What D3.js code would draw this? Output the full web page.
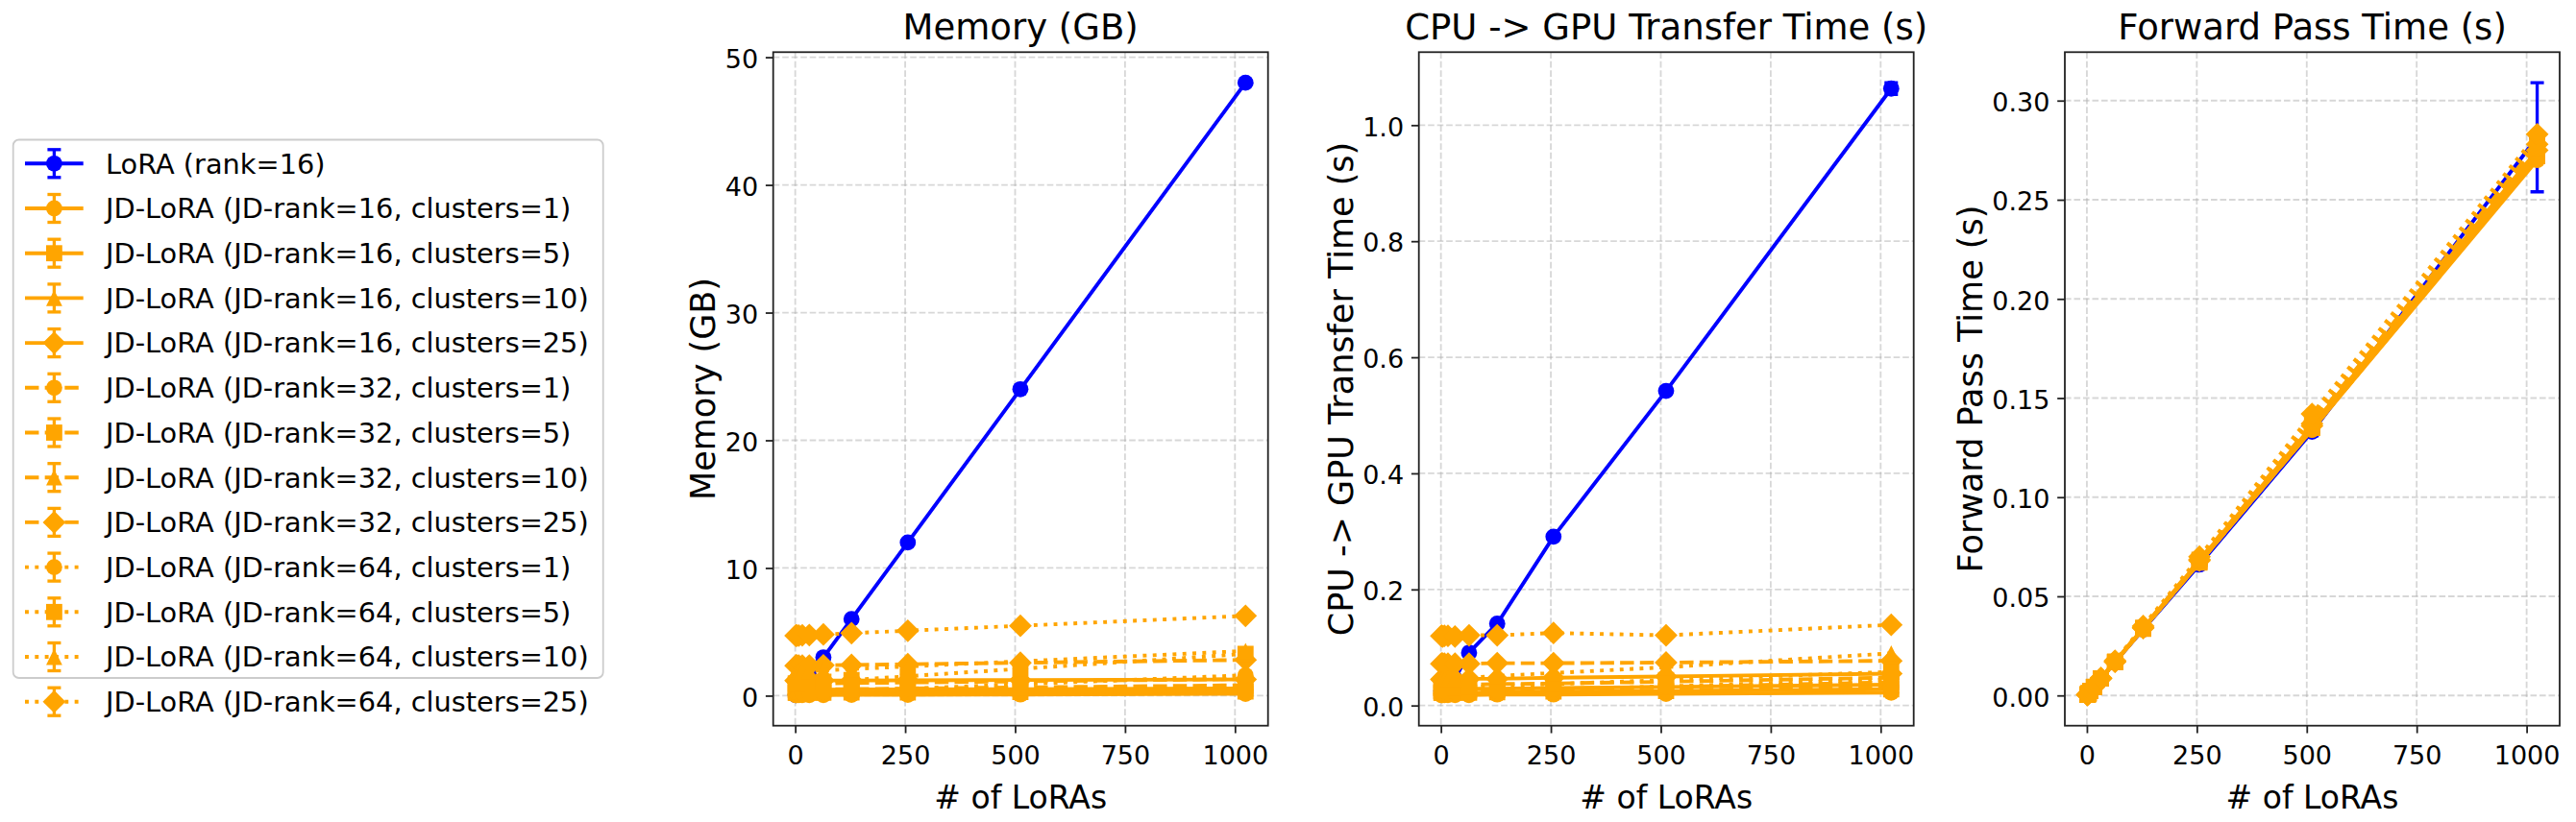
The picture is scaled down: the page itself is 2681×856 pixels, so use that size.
<!DOCTYPE html>
<html>
<head>
<meta charset="utf-8">
<script src="https://cdn.jsdelivr.net/npm/d3@7"></script>
<style>
  body { margin: 0; background: #fff; }
  text { font-family: "DejaVu Sans", sans-serif; }
</style>
</head>
<body>
<div id="container"></div>
<script>
const width = 2681;
const height = 856;

// x values: number of LoRAs
const nLoras = [1, 2, 4, 8, 16, 32, 64, 128, 256, 512, 1024];
const xTicks = [0, 250, 500, 750, 1000];

const ranks = [16, 32, 64];
const clusters = [1, 5, 10, 25];

// plain LoRA (rank=16)
const loraMemory = [0.047, 0.094, 0.188, 0.375, 0.75, 1.5, 3.0, 6.0, 12.0, 24.0, 48.0];
const loraTransfer = [0.025, 0.026, 0.027, 0.030, 0.035, 0.046, 0.091, 0.141, 0.291, 0.542, 1.063];
const loraTransferErr = [0.001, 0.001, 0.001, 0.001, 0.001, 0.002, 0.002, 0.003, 0.004, 0.005, 0.010];
const loraForward = [0.0003, 0.0006, 0.0011, 0.0022, 0.0043, 0.0085, 0.0168, 0.0333, 0.066, 0.133, 0.2815];
const loraForwardErr = [0.0001, 0.0001, 0.0001, 0.0002, 0.0003, 0.0004, 0.0006, 0.0008, 0.0012, 0.002, 0.0275];

// JD-LoRA memory (GB), one row per clusters value
const jdMemR16 = [
  [0.047, 0.047, 0.047, 0.048, 0.048, 0.050, 0.053, 0.059, 0.070, 0.094, 0.140],
  [0.235, 0.235, 0.235, 0.236, 0.237, 0.238, 0.241, 0.247, 0.259, 0.283, 0.330],
  [0.470, 0.470, 0.470, 0.471, 0.471, 0.473, 0.476, 0.481, 0.493, 0.515, 0.560],
  [1.180, 1.180, 1.180, 1.181, 1.181, 1.183, 1.186, 1.191, 1.203, 1.225, 1.270]
];
const jdMemR32 = [
  [0.094, 0.095, 0.095, 0.097, 0.100, 0.105, 0.116, 0.139, 0.183, 0.272, 0.450],
  [0.470, 0.471, 0.471, 0.473, 0.476, 0.481, 0.492, 0.514, 0.558, 0.645, 0.820],
  [0.940, 0.941, 0.941, 0.943, 0.946, 0.951, 0.963, 0.985, 1.030, 1.120, 1.300],
  [2.350, 2.351, 2.352, 2.354, 2.357, 2.364, 2.378, 2.406, 2.463, 2.575, 2.800]
];
const jdMemR64 = [
  [0.191, 0.193, 0.196, 0.201, 0.213, 0.234, 0.278, 0.366, 0.543, 0.895, 1.600],
  [0.942, 0.945, 0.949, 0.959, 0.977, 1.012, 1.086, 1.231, 1.523, 2.105, 3.270],
  [1.882, 1.883, 1.886, 1.893, 1.906, 1.930, 1.981, 2.083, 2.285, 2.690, 3.500],
  [4.702, 4.703, 4.706, 4.712, 4.725, 4.748, 4.797, 4.894, 5.088, 5.475, 6.250]
];

// JD-LoRA CPU -> GPU transfer time (s)
const jdTrR16 = [
  [0.018, 0.018, 0.018, 0.018, 0.018, 0.018, 0.018, 0.019, 0.019, 0.020, 0.022],
  [0.022, 0.022, 0.022, 0.022, 0.022, 0.022, 0.022, 0.023, 0.024, 0.025, 0.028],
  [0.028, 0.028, 0.028, 0.028, 0.028, 0.028, 0.029, 0.029, 0.030, 0.032, 0.036],
  [0.045, 0.045, 0.045, 0.045, 0.045, 0.045, 0.046, 0.046, 0.048, 0.050, 0.055]
];
const jdTrR32 = [
  [0.020, 0.020, 0.020, 0.020, 0.020, 0.020, 0.021, 0.022, 0.023, 0.026, 0.032],
  [0.025, 0.025, 0.025, 0.025, 0.025, 0.025, 0.026, 0.027, 0.029, 0.032, 0.040],
  [0.035, 0.035, 0.035, 0.035, 0.035, 0.035, 0.036, 0.037, 0.038, 0.041, 0.048],
  [0.072, 0.072, 0.072, 0.072, 0.072, 0.072, 0.072, 0.073, 0.073, 0.074, 0.077]
];
const jdTrR64 = [
  [0.022, 0.022, 0.022, 0.022, 0.022, 0.023, 0.023, 0.025, 0.028, 0.033, 0.045],
  [0.030, 0.030, 0.030, 0.030, 0.030, 0.031, 0.032, 0.034, 0.037, 0.044, 0.058],
  [0.045, 0.045, 0.045, 0.045, 0.046, 0.046, 0.048, 0.051, 0.056, 0.066, 0.090],
  [0.120, 0.120, 0.119, 0.120, 0.120, 0.119, 0.121, 0.121, 0.125, 0.121, 0.139]
];

// JD-LoRA forward pass time (s)
const jdFwR16 = [
  [0.0003, 0.0006, 0.0011, 0.0022, 0.0043, 0.0085, 0.0168, 0.0335, 0.0670, 0.134, 0.270],
  [0.0003, 0.0006, 0.0011, 0.0022, 0.0043, 0.0085, 0.0168, 0.0336, 0.0670, 0.135, 0.272],
  [0.0003, 0.0006, 0.0011, 0.0022, 0.0043, 0.0085, 0.0169, 0.0337, 0.0675, 0.135, 0.273],
  [0.0003, 0.0006, 0.0011, 0.0022, 0.0043, 0.0086, 0.0170, 0.0340, 0.0680, 0.136, 0.275]
];
const jdFwR32 = [
  [0.0003, 0.0006, 0.0011, 0.0022, 0.0043, 0.0085, 0.0168, 0.0335, 0.0670, 0.134, 0.271],
  [0.0003, 0.0006, 0.0011, 0.0022, 0.0043, 0.0085, 0.0169, 0.0337, 0.0675, 0.135, 0.273],
  [0.0003, 0.0006, 0.0011, 0.0022, 0.0043, 0.0086, 0.0170, 0.0340, 0.0680, 0.136, 0.276],
  [0.0003, 0.0006, 0.0011, 0.0022, 0.0044, 0.0086, 0.0171, 0.0342, 0.0685, 0.137, 0.278]
];
const jdFwR64 = [
  [0.0003, 0.0006, 0.0011, 0.0022, 0.0043, 0.0086, 0.0170, 0.0340, 0.0680, 0.138, 0.276],
  [0.0003, 0.0006, 0.0011, 0.0022, 0.0044, 0.0086, 0.0171, 0.0342, 0.0685, 0.139, 0.279],
  [0.0003, 0.0006, 0.0011, 0.0022, 0.0044, 0.0087, 0.0172, 0.0345, 0.0690, 0.140, 0.281],
  [0.0003, 0.0006, 0.0011, 0.0023, 0.0044, 0.0088, 0.0175, 0.0350, 0.0700, 0.142, 0.283]
];

const blue = "#0000ff";
const orange = "#ffa500";
const markerKinds = ["o", "s", "^", "D"];
const lw = 3.9;
const dashes = [null, `${3.7 * lw},${1.6 * lw}`, `${1 * lw},${1.65 * lw}`];
const mr = 8.4; // half marker size
const cap = 7;

const plotTop = 54.3;
const plotBottom = 755.7;
const plotW = 515;

const panels = [
  { title: "Memory (GB)", ylabel: "Memory (GB)", left: 804.7,
    lora: loraMemory, loraErr: null, jd: [jdMemR16, jdMemR32, jdMemR64],
    yTicks: [0, 10, 20, 30, 40, 50], fmt: d3.format("d") },
  { title: "CPU -> GPU Transfer Time (s)", ylabel: "CPU -> GPU Transfer Time (s)", left: 1476.7,
    lora: loraTransfer, loraErr: loraTransferErr, jd: [jdTrR16, jdTrR32, jdTrR64],
    yTicks: [0, 0.2, 0.4, 0.6, 0.8, 1.0], fmt: d3.format(".1f") },
  { title: "Forward Pass Time (s)", ylabel: "Forward Pass Time (s)", left: 2149,
    lora: loraForward, loraErr: loraForwardErr, jd: [jdFwR16, jdFwR32, jdFwR64],
    yTicks: [0, 0.05, 0.1, 0.15, 0.2, 0.25, 0.3], fmt: d3.format(".2f") }
];

function markerPath(kind) {
  const r = mr;
  if (kind === "o") {
    const p = d3.path();
    p.arc(0, 0, r, 0, 2 * Math.PI);
    return p.toString();
  }
  if (kind === "s") return `M${-r},${-r}H${r}V${r}H${-r}Z`;
  if (kind === "^") return `M0,${-r}L${r},${r}L${-r},${r}Z`;
  const d = r * Math.SQRT2;
  return `M0,${-d}L${d},0L0,${d}L${-d},0Z`;
}

const svg = d3
  .select("#container")
  .append("svg")
  .attr("width", width)
  .attr("height", height)
  .attr("viewBox", `0 0 ${width} ${height}`);

svg.append("rect").attr("width", width).attr("height", height).attr("fill", "#fff");

const x0 = nLoras[0], x1 = nLoras[nLoras.length - 1];
const xPad = (x1 - x0) * 0.05;

function drawSeries(g, x, y, vals, errs, color, kind, dash) {
  const pts = nLoras.map((n, i) => [n, vals[i], errs ? errs[i] : 0]);
  g.append("path")
    .attr("d", d3.line().x(d => x(d[0])).y(d => y(d[1]))(pts))
    .attr("fill", "none")
    .attr("stroke", color)
    .attr("stroke-width", lw)
    .attr("stroke-dasharray", dash)
    .attr("stroke-linejoin", "round");
  if (errs) {
    const eb = g.append("g").attr("stroke", color).attr("stroke-width", lw * 0.85);
    pts.forEach(d => {
      const ya = y(d[1] - d[2]), yb = y(d[1] + d[2]), xx = x(d[0]);
      eb.append("line").attr("x1", xx).attr("x2", xx).attr("y1", ya).attr("y2", yb);
      eb.append("line").attr("x1", xx - cap).attr("x2", xx + cap).attr("y1", ya).attr("y2", ya);
      eb.append("line").attr("x1", xx - cap).attr("x2", xx + cap).attr("y1", yb).attr("y2", yb);
    });
  }
  g.selectAll(null)
    .data(pts)
    .enter()
    .append("path")
    .attr("d", markerPath(kind))
    .attr("transform", d => `translate(${x(d[0])},${y(d[1])})`)
    .attr("fill", color);
}

panels.forEach((p, pi) => {
  const x = d3.scaleLinear().domain([x0 - xPad, x1 + xPad]).range([p.left, p.left + plotW]);

  let lo = d3.min(p.lora.map((v, i) => v - (p.loraErr ? p.loraErr[i] : 0)));
  let hi = d3.max(p.lora.map((v, i) => v + (p.loraErr ? p.loraErr[i] : 0)));
  p.jd.forEach(rows => rows.forEach(r => {
    lo = Math.min(lo, d3.min(r));
    hi = Math.max(hi, d3.max(r));
  }));
  const yPad = (hi - lo) * 0.05;
  const y = d3.scaleLinear().domain([lo - yPad, hi + yPad]).range([plotBottom, plotTop]);

  const gp = svg.append("g");

  // grid
  const grid = gp.append("g")
    .attr("stroke", "#b0b0b0")
    .attr("stroke-opacity", 0.5)
    .attr("stroke-width", 1.8)
    .attr("stroke-dasharray", "6.6,2.9");
  xTicks.forEach(t => grid.append("line").attr("x1", x(t)).attr("x2", x(t)).attr("y1", plotTop).attr("y2", plotBottom));
  p.yTicks.forEach(t => grid.append("line").attr("x1", p.left).attr("x2", p.left + plotW).attr("y1", y(t)).attr("y2", y(t)));

  // series: LoRA first, then the JD-LoRA variants
  const clipId = `clip${pi}`;
  svg.append("clipPath").attr("id", clipId)
    .append("rect").attr("x", p.left).attr("y", plotTop).attr("width", plotW).attr("height", plotBottom - plotTop);
  const gs = gp.append("g").attr("clip-path", `url(#${clipId})`);
  drawSeries(gs, x, y, p.lora, p.loraErr, blue, "o", null);
  ranks.forEach((rk, ri) => {
    clusters.forEach((c, ci) => {
      drawSeries(gs, x, y, p.jd[ri][ci], null, orange, markerKinds[ci], dashes[ri]);
    });
  });

  // frame
  gp.append("rect")
    .attr("x", p.left).attr("y", plotTop)
    .attr("width", plotW).attr("height", plotBottom - plotTop)
    .attr("fill", "none").attr("stroke", "#222").attr("stroke-width", 1.8);

  const xAxis = gp.append("g")
    .attr("transform", `translate(0,${plotBottom})`)
    .call(d3.axisBottom(x).tickValues(xTicks).tickFormat(d3.format("d")).tickSize(7.8).tickSizeOuter(0).tickPadding(7.8));
  xAxis.select(".domain").remove();
  xAxis.selectAll("line").attr("stroke", "#222").attr("stroke-width", 1.8);
  xAxis.selectAll("text").attr("font-size", 27).attr("fill", "#000").attr("dy", "0.93em")
    .style("font-family", "DejaVu Sans");

  const yAxis = gp.append("g")
    .attr("transform", `translate(${p.left},0)`)
    .call(d3.axisLeft(y).tickValues(p.yTicks).tickFormat(p.fmt).tickSize(7.8).tickSizeOuter(0).tickPadding(7.8));
  yAxis.select(".domain").remove();
  yAxis.selectAll("line").attr("stroke", "#222").attr("stroke-width", 1.8);
  yAxis.selectAll("text").attr("font-size", 27).attr("fill", "#000").attr("dy", "0.4em")
    .style("font-family", "DejaVu Sans");

  let maxW = 0;
  yAxis.selectAll("text").each(function () { maxW = Math.max(maxW, this.getComputedTextLength()); });

  // title
  gp.append("text")
    .attr("x", p.left + plotW / 2)
    .attr("y", plotTop - 13.3)
    .attr("text-anchor", "middle")
    .attr("font-size", 37)
    .text(p.title);

  // x label
  gp.append("text")
    .attr("x", p.left + plotW / 2)
    .attr("y", 842)
    .attr("text-anchor", "middle")
    .attr("font-size", 33)
    .text("# of LoRAs");

  // y label
  const ly = (plotTop + plotBottom) / 2;
  const lx = p.left - 15.6 - maxW - 8.9 - 1.5;
  gp.append("text")
    .attr("x", lx)
    .attr("y", ly)
    .attr("text-anchor", "middle")
    .attr("font-size", 35)
    .attr("transform", `rotate(-90,${lx},${ly})`)
    .text(p.ylabel);
});

// legend
const legendLabels = ["LoRA (rank=16)"];
const legendStyles = [{ color: blue, kind: "o", dash: null }];
ranks.forEach((rk, ri) => clusters.forEach((c, ci) => {
  legendLabels.push(`JD-LoRA (JD-rank=${rk}, clusters=${c})`);
  legendStyles.push({ color: orange, kind: markerKinds[ci], dash: dashes[ri] });
}));

const legend = svg.append("g");
legend.append("rect")
  .attr("x", 13.7).attr("y", 145.5)
  .attr("width", 614).attr("height", 560.5)
  .attr("rx", 6)
  .attr("fill", "#fff")
  .attr("stroke", "#cccccc")
  .attr("stroke-width", 1.8);

legendLabels.forEach((lab, i) => {
  const cy = 170.3 + i * 46.7;
  const st = legendStyles[i];
  const g = legend.append("g");
  g.append("line")
    .attr("x1", 26).attr("x2", 86.7).attr("y1", cy).attr("y2", cy)
    .attr("stroke", st.color).attr("stroke-width", lw)
    .attr("stroke-dasharray", st.dash);
  const mx = 56.4;
  g.append("line").attr("x1", mx).attr("x2", mx).attr("y1", cy - 14.5).attr("y2", cy + 14.5)
    .attr("stroke", st.color).attr("stroke-width", lw * 0.85);
  [cy - 14.5, cy + 14.5].forEach(yy => g.append("line")
    .attr("x1", mx - cap).attr("x2", mx + cap).attr("y1", yy).attr("y2", yy)
    .attr("stroke", st.color).attr("stroke-width", lw * 0.85));
  g.append("path")
    .attr("d", markerPath(st.kind))
    .attr("transform", `translate(${mx},${cy})`)
    .attr("fill", st.color);
  g.append("text")
    .attr("x", 110)
    .attr("y", cy + 28.8 * 0.36)
    .attr("font-size", 28.8)
    .text(lab);
});
</script>
</body>
</html>
